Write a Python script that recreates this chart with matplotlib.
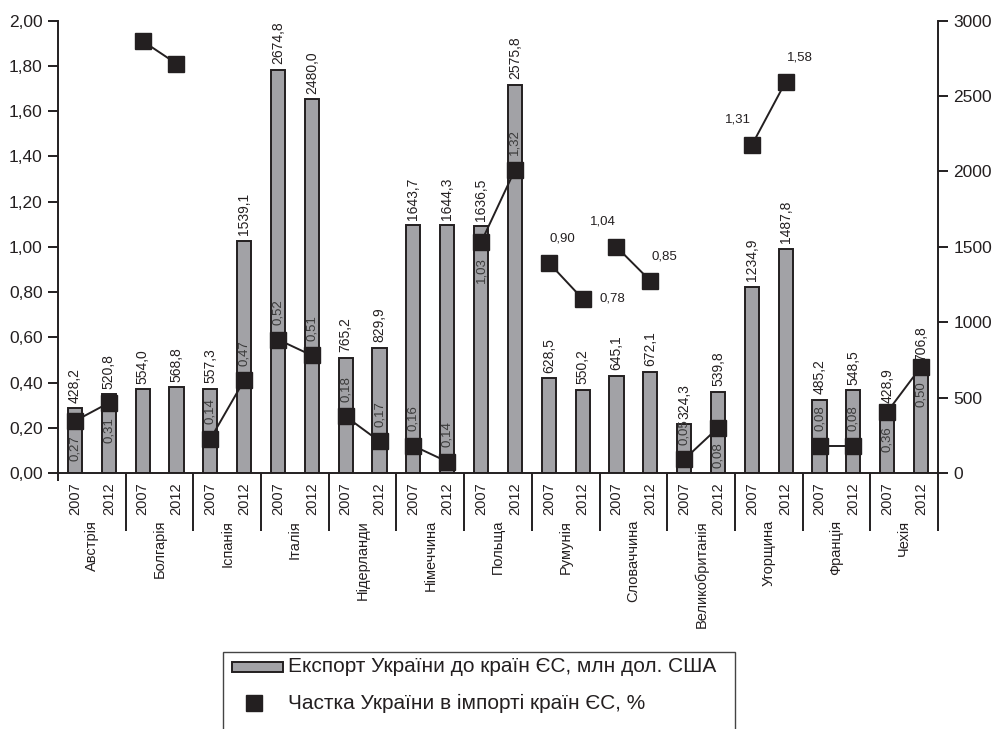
import matplotlib
matplotlib.use("Agg")
import matplotlib.pyplot as plt
from matplotlib.patches import Rectangle
from matplotlib.lines import Line2D
from matplotlib.transforms import blended_transform_factory

plt.rcParams['font.family'] = ['Liberation Sans', 'DejaVu Sans']

countries = ['Австрія', 'Болгарія', 'Іспанія', 'Італія', 'Нідерланди', 'Німеччина',
             'Польща', 'Румунія', 'Словаччина', 'Великобританія', 'Угорщина',
             'Франція', 'Чехія']
years = ['2007', '2012']

export = [428.2, 520.8, 554.0, 568.8, 557.3, 1539.1, 2674.8, 2480.0, 765.2, 829.9,
          1643.7, 1644.3, 1636.5, 2575.8, 628.5, 550.2, 645.1, 672.1, 324.3, 539.8,
          1234.9, 1487.8, 485.2, 548.5, 428.9, 706.8]

# share markers as drawn in the picture (left axis, %)
share = [0.23, 0.31, 1.91, 1.81, 0.15, 0.41, 0.59, 0.52, 0.25, 0.14, 0.12, 0.05,
         1.02, 1.34, 0.93, 0.77, 1.00, 0.85, 0.06, 0.20, 1.45, 1.73, 0.12, 0.12,
         0.27, 0.47]
share_labels = ['0,27', '0,31', '', '', '0,14', '0,47', '0,52', '0,51', '0,18', '0,17',
                '0,16', '0,14', '1,03', '1,32', '0,90', '0,78', '1,04', '0,85',
                '0,05', '0,08', '1,31', '1,58', '0,08', '0,08', '0,36', '0,50']
# label placement: a = inside bar above marker, b = inside bar below marker,
# ur / ul / r = horizontal label beside the marker
label_place = ['b', 'b', '', '', 'a', 'a', 'a', 'a', 'a', 'a', 'a', 'a', 'b', 'a',
               'ur', 'r', 'ul', 'ur', 'a', 'b', 'ul', 'ur', 'a', 'a', 'b', 'b']

left_ticks = [0.0, 0.2, 0.4, 0.6, 0.8, 1.0, 1.2, 1.4, 1.6, 1.8, 2.0]
right_ticks = [0, 500, 1000, 1500, 2000, 2500, 3000]

INK = '#231f20'
BAR = '#a2a2a6'

W, H = 992, 729
fig = plt.figure(figsize=(W / 100, H / 100), dpi=100)
ax = fig.add_axes([58 / W, 1 - 473 / H, (938 - 58) / W, (473 - 20.7) / H])
ax2 = ax.twinx()
ax.set_zorder(ax2.get_zorder() + 1)
ax.patch.set_visible(False)

n = len(export)
xs = list(range(n))
ax.set_xlim(-0.5, n - 0.5)
ax.set_ylim(0, 2.0)
ax2.set_ylim(0, 3000)

# bars
ax2.bar(xs, export, width=0.42, color=BAR, edgecolor=INK, linewidth=1.4, zorder=2)
for x, v in zip(xs, export):
    ax2.annotate(f'{v:.1f}'.replace('.', ','), (x, v), xytext=(0, 4),
                 textcoords='offset points', rotation=90, ha='center', va='bottom',
                 fontsize=10, color=INK)

# share line segments per country
for c in range(len(countries)):
    i0, i1 = 2 * c, 2 * c + 1
    ax.plot([i0, i1], [share[i0], share[i1]], '-', color=INK, lw=1.4,
            marker='s', markersize=11.5, markerfacecolor=INK, markeredgecolor=INK,
            zorder=5, clip_on=False)

offs = {'ur': (10, 13, 'center', 'bottom'), 'ul': (-10, 14, 'center', 'bottom'),
        'r': (12, 0, 'left', 'center')}
for x, v, t, p in zip(xs, share, share_labels, label_place):
    if not t:
        continue
    if p in ('a', 'b'):
        dy = 10.5 if p == 'a' else -10.5
        ax.annotate(t, (x, v), xytext=(0, dy), textcoords='offset points',
                    rotation=90, ha='center', va='bottom' if p == 'a' else 'top',
                    fontsize=9.5, color='#3a3a3a', zorder=6)
    else:
        dx, dy, ha, va = offs[p]
        ax.annotate(t, (x, v), xytext=(dx, dy), textcoords='offset points',
                    ha=ha, va=va, fontsize=9.5, color=INK, zorder=6)

# axes styling
for a in (ax, ax2):
    a.spines['top'].set_visible(False)
    for s in ('left', 'right', 'bottom'):
        a.spines[s].set_color(INK)
        a.spines[s].set_linewidth(1.4)
ax.spines['right'].set_visible(False)
ax2.spines['left'].set_visible(False)
ax2.spines['bottom'].set_visible(False)

ax.set_yticks(left_ticks)
ax.set_yticklabels([f'{t:.2f}'.replace('.', ',') for t in left_ticks])
ax2.set_yticks(right_ticks)
ax2.set_yticklabels([str(t) for t in right_ticks])
ax.tick_params(axis='y', direction='out', length=7, width=1.4, color=INK,
               labelsize=12.5, labelcolor=INK, pad=4)
ax2.tick_params(axis='y', direction='out', length=7, width=1.4, color=INK,
                labelsize=12.5, labelcolor=INK, pad=4)
ax.set_xticks([])
ax2.set_xticks([])

# category axis: year labels, separators, country labels
trans = blended_transform_factory(ax.transData, ax.transAxes)
px = 1 / (473 - 20.7)  # one pixel in axes-fraction units (vertical)
for x in xs:
    ax.text(x, -9 * px, years[x % 2], transform=trans, rotation=90,
            ha='center', va='top', fontsize=10.5, color=INK)
for c in range(len(countries)):
    xb = 2 * c + 1.5
    ax.plot([xb, xb], [0, -58 * px], transform=trans, color=INK, lw=1.4,
            clip_on=False, solid_capstyle='butt')
    ax.text(2 * c + 0.5, -47 * px, countries[c], transform=trans, rotation=90,
            ha='center', va='top', fontsize=10.5, color=INK)
ax.plot([-0.5, -0.5], [0, -8 * px], transform=trans, color=INK, lw=1.4,
        clip_on=False, solid_capstyle='butt')

# legend (box runs past the bottom edge as in the reference)
tf = fig.transFigure
def fx(p):
    return p / W
def fy(p):
    return 1 - p / H
fig.add_artist(Rectangle((fx(223), fy(740)), fx(735) - fx(223), fy(652) - fy(740),
                         transform=tf, facecolor='white', edgecolor='#444444',
                         linewidth=1.0))
fig.add_artist(Rectangle((fx(232), fy(672)), fx(283) - fx(232), fy(662) - fy(672),
                         transform=tf, facecolor=BAR, edgecolor=INK, linewidth=1.4))
fig.add_artist(Line2D([fx(254)], [fy(703)], transform=tf, marker='s', markersize=11,
                      color=INK, linestyle='none'))
fig.text(fx(288), fy(667), 'Експорт України до країн ЄС, млн дол. США',
         ha='left', va='center', fontsize=15, color=INK)
fig.text(fx(288), fy(703), 'Частка України в імпорті країн ЄС, %',
         ha='left', va='center', fontsize=15, color=INK)

fig.savefig('out.png', dpi=100, facecolor='white')
